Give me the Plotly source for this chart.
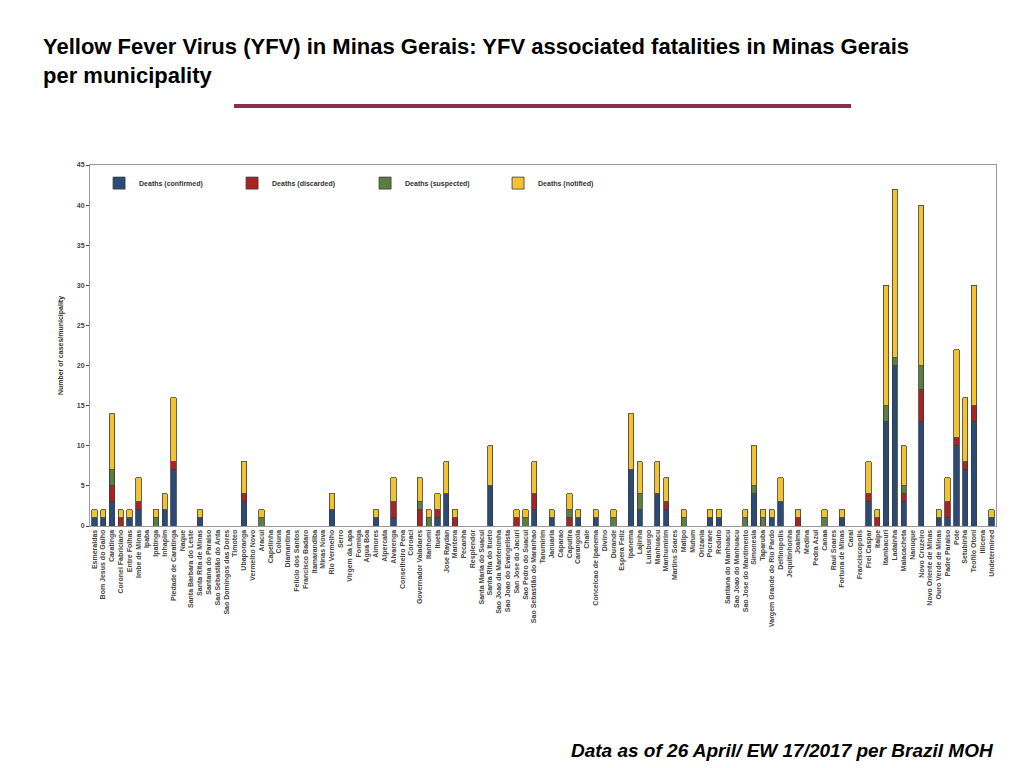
import plotly.graph_objects as go

# municipality: (confirmed, discarded, suspected, notified)
data = {
    "Esmeraldas": (1, 0, 0, 1), "Bom Jesus do Galho": (1, 0, 0, 1), "Caratinga": (3, 2, 2, 7),
    "Coronel Fabriciano": (0, 1, 0, 1), "Entre Folhas": (1, 0, 0, 1), "Imbe de Minas": (2, 1, 0, 3),
    "Ipaba": (0, 0, 0, 0), "Ipatinga": (0, 0, 1, 1), "Inhapim": (2, 0, 0, 2),
    "Piedade de Caratinga": (7, 1, 0, 8), "Naque": (0, 0, 0, 0), "Santa Barbara do Leste": (0, 0, 0, 0),
    "Santa Rita de Minas": (1, 0, 0, 1), "Santana do Paraiso": (0, 0, 0, 0),
    "Sao Sebastião do Anta": (0, 0, 0, 0), "Sao Domingos das Dores": (0, 0, 0, 0), "Timoteo": (0, 0, 0, 0),
    "Ubaporanga": (3, 1, 0, 4), "Vermelho Novo": (0, 0, 0, 0), "Aracui": (0, 0, 1, 1),
    "Capelinha": (0, 0, 0, 0), "Coluna": (0, 0, 0, 0), "Diamantina": (0, 0, 0, 0),
    "Felicio dos Santos": (0, 0, 0, 0), "Francisco Badaro": (0, 0, 0, 0), "Itamarandiba": (0, 0, 0, 0),
    "Minas Nova": (0, 0, 0, 0), "Rio Vermelho": (2, 0, 0, 2), "Serro": (0, 0, 0, 0),
    "Virgem da Lapa": (0, 0, 0, 0), "Formiga": (0, 0, 0, 0), "Agua Boa": (0, 0, 0, 0),
    "Aimores": (1, 0, 0, 1), "Alpercata": (0, 0, 0, 0), "Alvarenga": (1, 2, 0, 3),
    "Conselheiro Pena": (0, 0, 0, 0), "Coroaci": (0, 0, 0, 0), "Governador Valadares": (0, 2, 1, 3),
    "Itanhomi": (0, 0, 1, 1), "Itueta": (1, 1, 0, 2), "Jose Raydan": (4, 0, 0, 4),
    "Mantena": (0, 1, 0, 1), "Pecanha": (0, 0, 0, 0), "Resplendor": (0, 0, 0, 0),
    "Santa Maria do Suacui": (0, 0, 0, 0), "Santa Rita do Itueto": (5, 0, 0, 5),
    "Sao Joao da Mantenimha": (0, 0, 0, 0), "Sao Joao do Evangelista": (0, 0, 0, 0),
    "San Jose do Jacuri": (0, 1, 0, 1), "Sao Pedro do Suacui": (0, 0, 1, 1),
    "Sao Sebastião do Maranhao": (2, 2, 0, 4), "Tarumirim": (0, 0, 0, 0), "Januaria": (1, 0, 0, 1),
    "Caparao": (0, 0, 0, 0), "Caputira": (0, 1, 1, 2), "Carangola": (1, 0, 0, 1), "Chale": (0, 0, 0, 0),
    "Conceicao de Ipanema": (1, 0, 0, 1), "Divino": (0, 0, 0, 0), "Durande": (0, 0, 1, 1),
    "Espera Feliz": (0, 0, 0, 0), "Ipanema": (7, 0, 0, 7), "Lajinha": (2, 0, 2, 4),
    "Luisburgo": (0, 0, 0, 0), "Manhuacu": (4, 0, 0, 4), "Manhumirim": (2, 1, 0, 3),
    "Martins Soares": (0, 0, 0, 0), "Matipo": (0, 0, 1, 1), "Mutum": (0, 0, 0, 0),
    "Orizania": (0, 0, 0, 0), "Pocrane": (1, 0, 0, 1), "Reduto": (1, 0, 0, 1),
    "Santana do Manhuacu": (0, 0, 0, 0), "Sao Joao do Manhuacu": (0, 0, 0, 0),
    "Sao Jose do Mantimento": (0, 0, 1, 1), "Simonesia": (4, 0, 1, 5), "Taparuba": (0, 0, 1, 1),
    "Vargem Grande do Rio Pardo": (1, 0, 0, 1), "Delfinopolis": (3, 0, 0, 3),
    "Jequitinhonha": (0, 0, 0, 0), "Joaima": (0, 1, 0, 1), "Medina": (0, 0, 0, 0),
    "Pedra Azul": (0, 0, 0, 0), "Canaa": (0, 0, 1, 1), "Raul Soares": (0, 0, 0, 0),
    "Fortuna de Minas": (1, 0, 0, 1), "Carai": (0, 0, 0, 0), "Franciscopolis": (0, 0, 0, 0),
    "Frei Caspar": (3, 1, 0, 4), "Itaipe": (0, 1, 0, 1), "Itambacuri": (13, 0, 2, 15),
    "Ladainha": (20, 0, 1, 21), "Malacacheta": (3, 1, 1, 5), "Nanuque": (0, 0, 0, 0),
    "Novo Cruzeiro": (13, 4, 3, 20), "Novo Oriente de Minas": (0, 0, 0, 0),
    "Ouro Verde de Minas": (1, 0, 0, 1), "Padre Paraiso": (1, 2, 0, 3), "Pote": (10, 1, 0, 11),
    "Setubinha": (7, 1, 0, 8), "Teofilo Otoni": (13, 2, 0, 15), "Illicena": (0, 0, 0, 0),
    "Undetermined": (1, 0, 0, 1),
}

names = list(data.keys())
series = [
    ("Deaths (confirmed)", "#2b4a75"),
    ("Deaths (discarded)", "#a62424"),
    ("Deaths (suspected)", "#5a7f3f"),
    ("Deaths (notified)", "#f2c230"),
]

fig = go.Figure()
for i, (label, color) in enumerate(series):
    fig.add_trace(go.Bar(
        x=names, y=[data[n][i] for n in names], name=label,
        marker=dict(color=color, line=dict(color="#3a3a3a", width=0.8)),
    ))

fig.update_layout(
    barmode="stack", bargap=0.4,
    width=1024, height=768,
    paper_bgcolor="white", plot_bgcolor="white",
    margin=dict(l=82, r=36, t=157, b=250, autoexpand=False),
    font=dict(family="Liberation Sans, Arial", color="#444"),
    legend=dict(orientation="h", x=0.01, y=0.99, xanchor="left", yanchor="top",
                traceorder="normal", itemwidth=30, entrywidth=88,
                font=dict(size=7, color="#333", weight="bold"), bgcolor="rgba(0,0,0,0)"),
    xaxis=dict(tickangle=-90, tickmode="array", tickvals=names, automargin=False,
               tickfont=dict(size=7, color="#444", weight="bold"), showgrid=False,
               showline=True, linecolor="#999", mirror=True, ticks=""),
    yaxis=dict(range=[0, 45], dtick=5, automargin=False,
               tickfont=dict(size=7, color="#444", weight="bold"), showgrid=False,
               showline=True, linecolor="#999", mirror=True, ticks="outside", ticklen=3,
               title=dict(text="<b>Number of cases/municipality</b>", standoff=12,
                          font=dict(size=7, color="#333"))),
    shapes=[dict(type="line", xref="paper", yref="paper", x0=(226 - 82) / 906, x1=(843 - 82) / 906,
                 y0=1 + (157 - 98) / 361, y1=1 + (157 - 98) / 361,
                 line=dict(color="#8b2d4f", width=4))],
    annotations=[
        dict(text="<b>Yellow Fever Virus (YFV) in Minas Gerais: YFV associated fatalities in Minas Gerais<br>per municipality</b>",
             xref="paper", yref="paper", x=-(82 - 33) / 906, y=1 + (157 - 24) / 361,
             xanchor="left", yanchor="top", align="left", showarrow=False,
             font=dict(size=22, color="black", family="Liberation Sans, Arial")),
        dict(text="<b><i>Data as of 26 April/ EW 17/2017 per Brazil MOH</i></b>",
             xref="paper", yref="paper", x=1, y=-(742 - 518) / 361,
             xanchor="right", yanchor="middle", showarrow=False,
             font=dict(size=19, color="black", family="Liberation Sans, Arial")),
    ],
)

fig.write_html("out.html")
